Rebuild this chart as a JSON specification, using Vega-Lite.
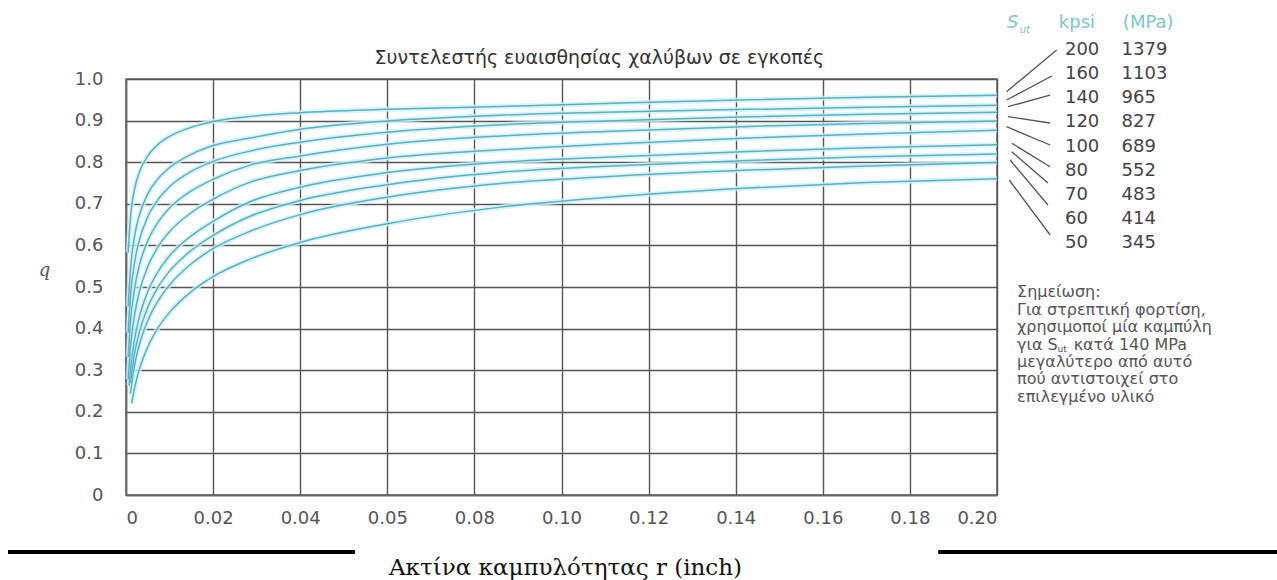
{
  "$schema": "https://vega.github.io/schema/vega-lite/v6.json",
  "width": 871,
  "height": 416,
  "autosize": {"type": "none"},
  "padding": {"left": 126, "top": 79, "right": 280, "bottom": 85},
  "background": "white",
  "config": {
    "font": "DejaVu Sans",
    "view": {"stroke": "#666", "strokeWidth": 1.5}
  },
  "datasets": {
    "curves": [
      {"kpsi":200,"r":0.0005,"q":0.583},{"kpsi":200,"r":0.001,"q":0.664},{"kpsi":200,"r":0.002,"q":0.737},{"kpsi":200,"r":0.003,"q":0.774},{"kpsi":200,"r":0.005,"q":0.815},{"kpsi":200,"r":0.0075,"q":0.844},{"kpsi":200,"r":0.01,"q":0.862},{"kpsi":200,"r":0.015,"q":0.884},{"kpsi":200,"r":0.02,"q":0.898},{"kpsi":200,"r":0.0285,"q":0.91},{"kpsi":200,"r":0.04,"q":0.919},{"kpsi":200,"r":0.06,"q":0.927},{"kpsi":200,"r":0.086,"q":0.934},{"kpsi":200,"r":0.11,"q":0.941},{"kpsi":200,"r":0.143,"q":0.95},{"kpsi":200,"r":0.17,"q":0.956},{"kpsi":200,"r":0.2,"q":0.961},
      {"kpsi":160,"r":0.0005,"q":0.453},{"kpsi":160,"r":0.001,"q":0.539},{"kpsi":160,"r":0.002,"q":0.624},{"kpsi":160,"r":0.003,"q":0.67},{"kpsi":160,"r":0.005,"q":0.724},{"kpsi":160,"r":0.0075,"q":0.762},{"kpsi":160,"r":0.01,"q":0.787},{"kpsi":160,"r":0.015,"q":0.819},{"kpsi":160,"r":0.02,"q":0.84},{"kpsi":160,"r":0.0285,"q":0.858},{"kpsi":160,"r":0.04,"q":0.879},{"kpsi":160,"r":0.06,"q":0.899},{"kpsi":160,"r":0.086,"q":0.913},{"kpsi":160,"r":0.11,"q":0.92},{"kpsi":160,"r":0.143,"q":0.927},{"kpsi":160,"r":0.17,"q":0.932},{"kpsi":160,"r":0.2,"q":0.937},
      {"kpsi":140,"r":0.0005,"q":0.39},{"kpsi":140,"r":0.001,"q":0.475},{"kpsi":140,"r":0.002,"q":0.561},{"kpsi":140,"r":0.003,"q":0.61},{"kpsi":140,"r":0.005,"q":0.669},{"kpsi":140,"r":0.0075,"q":0.712},{"kpsi":140,"r":0.01,"q":0.741},{"kpsi":140,"r":0.015,"q":0.778},{"kpsi":140,"r":0.02,"q":0.802},{"kpsi":140,"r":0.0285,"q":0.827},{"kpsi":140,"r":0.04,"q":0.848},{"kpsi":140,"r":0.06,"q":0.872},{"kpsi":140,"r":0.086,"q":0.89},{"kpsi":140,"r":0.11,"q":0.899},{"kpsi":140,"r":0.143,"q":0.909},{"kpsi":140,"r":0.17,"q":0.915},{"kpsi":140,"r":0.2,"q":0.92},
      {"kpsi":120,"r":0.0005,"q":0.332},{"kpsi":120,"r":0.001,"q":0.413},{"kpsi":120,"r":0.002,"q":0.498},{"kpsi":120,"r":0.003,"q":0.549},{"kpsi":120,"r":0.005,"q":0.611},{"kpsi":120,"r":0.0075,"q":0.658},{"kpsi":120,"r":0.01,"q":0.69},{"kpsi":120,"r":0.015,"q":0.731},{"kpsi":120,"r":0.02,"q":0.759},{"kpsi":120,"r":0.0285,"q":0.793},{"kpsi":120,"r":0.04,"q":0.815},{"kpsi":120,"r":0.06,"q":0.843},{"kpsi":120,"r":0.086,"q":0.863},{"kpsi":120,"r":0.11,"q":0.874},{"kpsi":120,"r":0.143,"q":0.886},{"kpsi":120,"r":0.17,"q":0.893},{"kpsi":120,"r":0.2,"q":0.899},
      {"kpsi":100,"r":0.0005,"q":0.278},{"kpsi":100,"r":0.001,"q":0.353},{"kpsi":100,"r":0.002,"q":0.435},{"kpsi":100,"r":0.003,"q":0.486},{"kpsi":100,"r":0.005,"q":0.549},{"kpsi":100,"r":0.0075,"q":0.599},{"kpsi":100,"r":0.01,"q":0.633},{"kpsi":100,"r":0.015,"q":0.679},{"kpsi":100,"r":0.02,"q":0.711},{"kpsi":100,"r":0.0285,"q":0.752},{"kpsi":100,"r":0.04,"q":0.78},{"kpsi":100,"r":0.06,"q":0.81},{"kpsi":100,"r":0.086,"q":0.83},{"kpsi":100,"r":0.11,"q":0.843},{"kpsi":100,"r":0.143,"q":0.858},{"kpsi":100,"r":0.17,"q":0.868},{"kpsi":100,"r":0.2,"q":0.877},
      {"kpsi":80,"r":0.0007,"q":0.263},{"kpsi":80,"r":0.001,"q":0.299},{"kpsi":80,"r":0.002,"q":0.377},{"kpsi":80,"r":0.003,"q":0.425},{"kpsi":80,"r":0.005,"q":0.489},{"kpsi":80,"r":0.0075,"q":0.539},{"kpsi":80,"r":0.01,"q":0.575},{"kpsi":80,"r":0.015,"q":0.623},{"kpsi":80,"r":0.02,"q":0.658},{"kpsi":80,"r":0.0285,"q":0.705},{"kpsi":80,"r":0.04,"q":0.74},{"kpsi":80,"r":0.06,"q":0.775},{"kpsi":80,"r":0.086,"q":0.8},{"kpsi":80,"r":0.11,"q":0.812},{"kpsi":80,"r":0.143,"q":0.826},{"kpsi":80,"r":0.17,"q":0.835},{"kpsi":80,"r":0.2,"q":0.842},
      {"kpsi":70,"r":0.001,"q":0.269},{"kpsi":70,"r":0.002,"q":0.342},{"kpsi":70,"r":0.003,"q":0.389},{"kpsi":70,"r":0.005,"q":0.451},{"kpsi":70,"r":0.0075,"q":0.502},{"kpsi":70,"r":0.01,"q":0.538},{"kpsi":70,"r":0.015,"q":0.588},{"kpsi":70,"r":0.02,"q":0.624},{"kpsi":70,"r":0.0285,"q":0.67},{"kpsi":70,"r":0.04,"q":0.708},{"kpsi":70,"r":0.06,"q":0.746},{"kpsi":70,"r":0.086,"q":0.776},{"kpsi":70,"r":0.11,"q":0.79},{"kpsi":70,"r":0.143,"q":0.804},{"kpsi":70,"r":0.17,"q":0.813},{"kpsi":70,"r":0.2,"q":0.82},
      {"kpsi":60,"r":0.001,"q":0.244},{"kpsi":60,"r":0.002,"q":0.313},{"kpsi":60,"r":0.003,"q":0.359},{"kpsi":60,"r":0.005,"q":0.419},{"kpsi":60,"r":0.0075,"q":0.469},{"kpsi":60,"r":0.01,"q":0.505},{"kpsi":60,"r":0.015,"q":0.556},{"kpsi":60,"r":0.02,"q":0.592},{"kpsi":60,"r":0.0285,"q":0.634},{"kpsi":60,"r":0.04,"q":0.674},{"kpsi":60,"r":0.06,"q":0.716},{"kpsi":60,"r":0.086,"q":0.749},{"kpsi":60,"r":0.11,"q":0.765},{"kpsi":60,"r":0.143,"q":0.781},{"kpsi":60,"r":0.17,"q":0.791},{"kpsi":60,"r":0.2,"q":0.799},
      {"kpsi":50,"r":0.0013,"q":0.22},{"kpsi":50,"r":0.002,"q":0.259},{"kpsi":50,"r":0.003,"q":0.3},{"kpsi":50,"r":0.005,"q":0.356},{"kpsi":50,"r":0.0075,"q":0.404},{"kpsi":50,"r":0.01,"q":0.439},{"kpsi":50,"r":0.015,"q":0.489},{"kpsi":50,"r":0.02,"q":0.525},{"kpsi":50,"r":0.0285,"q":0.567},{"kpsi":50,"r":0.04,"q":0.607},{"kpsi":50,"r":0.06,"q":0.652},{"kpsi":50,"r":0.086,"q":0.692},{"kpsi":50,"r":0.11,"q":0.715},{"kpsi":50,"r":0.143,"q":0.738},{"kpsi":50,"r":0.17,"q":0.751},{"kpsi":50,"r":0.2,"q":0.76}
    ],
    "legend": [
      {"kpsi":200,"mpa":1379},{"kpsi":160,"mpa":1103},{"kpsi":140,"mpa":965},{"kpsi":120,"mpa":827},{"kpsi":100,"mpa":689},{"kpsi":80,"mpa":552},{"kpsi":70,"mpa":483},{"kpsi":60,"mpa":414},{"kpsi":50,"mpa":345}
    ],
    "leaders": [
      {"kpsi":200,"r":0.2022,"q":0.9695},{"kpsi":200,"r":0.2137,"q":1.0697},
      {"kpsi":160,"r":0.2022,"q":0.9495},{"kpsi":160,"r":0.2126,"q":1.0072},
      {"kpsi":140,"r":0.2025,"q":0.9334},{"kpsi":140,"r":0.2122,"q":0.9615},
      {"kpsi":120,"r":0.2025,"q":0.9094},{"kpsi":120,"r":0.2122,"q":0.8942},
      {"kpsi":100,"r":0.2022,"q":0.8853},{"kpsi":100,"r":0.2122,"q":0.8413},
      {"kpsi":80,"r":0.2034,"q":0.8454},{"kpsi":80,"r":0.2122,"q":0.7892},
      {"kpsi":70,"r":0.2034,"q":0.8252},{"kpsi":70,"r":0.2117,"q":0.75},
      {"kpsi":60,"r":0.203,"q":0.8053},{"kpsi":60,"r":0.2117,"q":0.6971},
      {"kpsi":50,"r":0.2028,"q":0.7572},{"kpsi":50,"r":0.2122,"q":0.625}
    ]
  },
  "resolve": {"scale": {"y": "independent"}},
  "layer": [
    {
      "data": {"name": "curves"},
      "mark": {"type": "line", "interpolate": "monotone", "stroke": "#d3f0f6", "strokeWidth": 5, "opacity": 0.8},
      "encoding": {
        "x": {"field": "r", "type": "quantitative", "scale": {"domain": [0, 0.2], "nice": false},
          "axis": {"values": [0,0.02,0.04,0.06,0.08,0.1,0.12,0.14,0.16,0.18,0.2],
            "labelExpr": "datum.value == 0 ? '0' : (abs(datum.value - 0.06) < 0.000001 ? '0.05' : format(datum.value, '.2f'))",
            "grid": true, "gridColor": "#555", "gridWidth": 1.4, "gridOpacity": 1,
            "domain": true, "domainColor": "#666", "domainWidth": 1.5, "ticks": false,
            "labelPadding": 14, "labelFontSize": 18, "labelColor": "#555", "labelFont": "DejaVu Sans",
            "title": "Ακτίνα καμπυλότητας r (inch)", "titleFont": "DejaVu Serif", "titleFontSize": 23,
            "titleFontWeight": "normal", "titleColor": "#111", "titleX": 439, "titleY": 72,
            "titleAlign": "center", "titleBaseline": "middle", "titleAnchor": null}},
        "y": {"field": "q", "type": "quantitative", "scale": {"domain": [0, 1], "nice": false},
          "axis": {"values": [0,0.1,0.2,0.3,0.4,0.5,0.6,0.7,0.8,0.9,1],
            "labelExpr": "datum.value == 0 ? '0' : format(datum.value, '.1f')",
            "grid": true, "gridColor": "#555", "gridWidth": 1.4, "gridOpacity": 1,
            "domain": true, "domainColor": "#666", "domainWidth": 1.5, "ticks": false,
            "labelPadding": 23, "labelFontSize": 18, "labelColor": "#555", "labelFont": "DejaVu Sans",
            "title": "q", "titleAngle": 0, "titleFontStyle": "italic", "titleFontWeight": "normal",
            "titleFont": "DejaVu Serif", "titleFontSize": 18, "titleColor": "#555", "titleX": -82, "titleY": 191,
            "titleAlign": "center", "titleBaseline": "middle", "titleAnchor": null}},
        "detail": {"field": "kpsi", "type": "nominal"}
      }
    },
    {
      "data": {"name": "curves"},
      "mark": {"type": "line", "interpolate": "monotone", "stroke": "#52b3c9", "strokeWidth": 1.5},
      "encoding": {
        "x": {"field": "r", "type": "quantitative", "scale": {"domain": [0, 0.2], "nice": false}},
        "y": {"field": "q", "type": "quantitative", "scale": {"domain": [0, 1], "nice": false}, "axis": null},
        "detail": {"field": "kpsi", "type": "nominal"}
      }
    },
    {
      "data": {"name": "leaders"},
      "mark": {"type": "line", "stroke": "#555", "strokeWidth": 1.3},
      "encoding": {
        "x": {"field": "r", "type": "quantitative", "scale": {"domain": [0, 0.2], "nice": false}},
        "y": {"field": "q", "type": "quantitative", "scale": {"domain": [0, 1], "nice": false}, "axis": null},
        "detail": {"field": "kpsi", "type": "nominal"}
      }
    },
    {
      "data": {"name": "legend"},
      "mark": {"type": "text", "align": "left", "baseline": "middle", "fontSize": 18, "color": "#444"},
      "encoding": {
        "x": {"datum": 0.2156, "type": "quantitative", "scale": {"domain": [0, 0.2], "nice": false}},
        "y": {"field": "kpsi", "type": "ordinal", "scale": {"type": "point", "domain": [200,160,140,120,100,80,70,60,50], "range": [-29, 164], "padding": 0}, "axis": null},
        "text": {"field": "kpsi", "type": "nominal"}
      }
    },
    {
      "data": {"name": "legend"},
      "mark": {"type": "text", "align": "left", "baseline": "middle", "fontSize": 18, "color": "#444"},
      "encoding": {
        "x": {"datum": 0.2286, "type": "quantitative", "scale": {"domain": [0, 0.2], "nice": false}},
        "y": {"field": "kpsi", "type": "ordinal", "scale": {"type": "point", "domain": [200,160,140,120,100,80,70,60,50], "range": [-29, 164], "padding": 0}, "axis": null},
        "text": {"field": "mpa", "type": "nominal"}
      }
    },
    {
      "data": {"values": [{}]},
      "mark": {"type": "text", "align": "left", "baseline": "middle", "fontSize": 18, "fontStyle": "italic", "color": "#7cc6cd", "text": "S"},
      "encoding": {
        "x": {"datum": 0.2023, "type": "quantitative", "scale": {"domain": [0, 0.2], "nice": false}},
        "y": {"datum": 1.135, "type": "quantitative", "scale": {"domain": [0, 1], "nice": false}, "axis": null}
      }
    },
    {
      "data": {"values": [{}]},
      "mark": {"type": "text", "align": "left", "baseline": "middle", "fontSize": 10, "fontStyle": "italic", "color": "#7cc6cd", "text": "ut"},
      "encoding": {
        "x": {"datum": 0.2052, "type": "quantitative", "scale": {"domain": [0, 0.2], "nice": false}},
        "y": {"datum": 1.118, "type": "quantitative", "scale": {"domain": [0, 1], "nice": false}, "axis": null}
      }
    },
    {
      "data": {"values": [{}]},
      "mark": {"type": "text", "align": "left", "baseline": "middle", "fontSize": 18, "color": "#7cc6cd", "text": "kpsi"},
      "encoding": {
        "x": {"datum": 0.2142, "type": "quantitative", "scale": {"domain": [0, 0.2], "nice": false}},
        "y": {"datum": 1.135, "type": "quantitative", "scale": {"domain": [0, 1], "nice": false}, "axis": null}
      }
    },
    {
      "data": {"values": [{}]},
      "mark": {"type": "text", "align": "left", "baseline": "middle", "fontSize": 18, "color": "#7cc6cd", "text": "(MPa)"},
      "encoding": {
        "x": {"datum": 0.2289, "type": "quantitative", "scale": {"domain": [0, 0.2], "nice": false}},
        "y": {"datum": 1.135, "type": "quantitative", "scale": {"domain": [0, 1], "nice": false}, "axis": null}
      }
    },
    {
      "data": {"values": [{}]},
      "mark": {"type": "text", "align": "center", "baseline": "middle", "fontSize": 19, "color": "#333", "text": "Συντελεστής ευαισθησίας χαλύβων σε εγκοπές"},
      "encoding": {
        "x": {"datum": 0.1087, "type": "quantitative", "scale": {"domain": [0, 0.2], "nice": false}},
        "y": {"datum": 1.0505, "type": "quantitative", "scale": {"domain": [0, 1], "nice": false}, "axis": null}
      }
    },
    {
      "data": {"values": [{}]},
      "mark": {"type": "text", "align": "left", "baseline": "top", "fontSize": 16, "lineHeight": 17.5, "color": "#555",
        "text": ["Σημείωση:", "Για στρεπτική φορτίση,", "χρησιμοποί μία καμπύλη"]},
      "encoding": {
        "x": {"datum": 0.2046, "type": "quantitative", "scale": {"domain": [0, 0.2], "nice": false}},
        "y": {"datum": 0.507, "type": "quantitative", "scale": {"domain": [0, 1], "nice": false}, "axis": null}
      }
    },
    {
      "data": {"values": [{}]},
      "mark": {"type": "text", "align": "left", "baseline": "top", "fontSize": 16, "lineHeight": 17.5, "color": "#555",
        "text": ["μεγαλύτερο από αυτό", "πού αντιστοιχεί στο", "επιλεγμένο υλικό"]},
      "encoding": {
        "x": {"datum": 0.2046, "type": "quantitative", "scale": {"domain": [0, 0.2], "nice": false}},
        "y": {"datum": 0.339, "type": "quantitative", "scale": {"domain": [0, 1], "nice": false}, "axis": null}
      }
    },
    {
      "data": {"values": [{}]},
      "mark": {"type": "text", "align": "left", "baseline": "top", "fontSize": 16, "color": "#555", "text": "για S"},
      "encoding": {
        "x": {"datum": 0.2046, "type": "quantitative", "scale": {"domain": [0, 0.2], "nice": false}},
        "y": {"datum": 0.381, "type": "quantitative", "scale": {"domain": [0, 1], "nice": false}, "axis": null}
      }
    },
    {
      "data": {"values": [{}]},
      "mark": {"type": "text", "align": "left", "baseline": "middle", "fontSize": 9, "color": "#555", "text": "ut"},
      "encoding": {
        "x": {"datum": 0.2139, "type": "quantitative", "scale": {"domain": [0, 0.2], "nice": false}},
        "y": {"datum": 0.352, "type": "quantitative", "scale": {"domain": [0, 1], "nice": false}, "axis": null}
      }
    },
    {
      "data": {"values": [{}]},
      "mark": {"type": "text", "align": "left", "baseline": "top", "fontSize": 16, "color": "#555", "text": "κατά 140 MPa"},
      "encoding": {
        "x": {"datum": 0.2176, "type": "quantitative", "scale": {"domain": [0, 0.2], "nice": false}},
        "y": {"datum": 0.381, "type": "quantitative", "scale": {"domain": [0, 1], "nice": false}, "axis": null}
      }
    },
    {
      "data": {"values": [{}]},
      "mark": {"type": "rule", "color": "#000", "strokeWidth": 4},
      "encoding": {
        "x": {"datum": -0.0271, "type": "quantitative", "scale": {"domain": [0, 0.2], "nice": false}},
        "x2": {"datum": 0.0526},
        "y": {"datum": -0.137, "type": "quantitative", "scale": {"domain": [0, 1], "nice": false}, "axis": null}
      }
    },
    {
      "data": {"values": [{}]},
      "mark": {"type": "rule", "color": "#000", "strokeWidth": 4},
      "encoding": {
        "x": {"datum": 0.1865, "type": "quantitative", "scale": {"domain": [0, 0.2], "nice": false}},
        "x2": {"datum": 0.2643},
        "y": {"datum": -0.137, "type": "quantitative", "scale": {"domain": [0, 1], "nice": false}, "axis": null}
      }
    }
  ]
}
